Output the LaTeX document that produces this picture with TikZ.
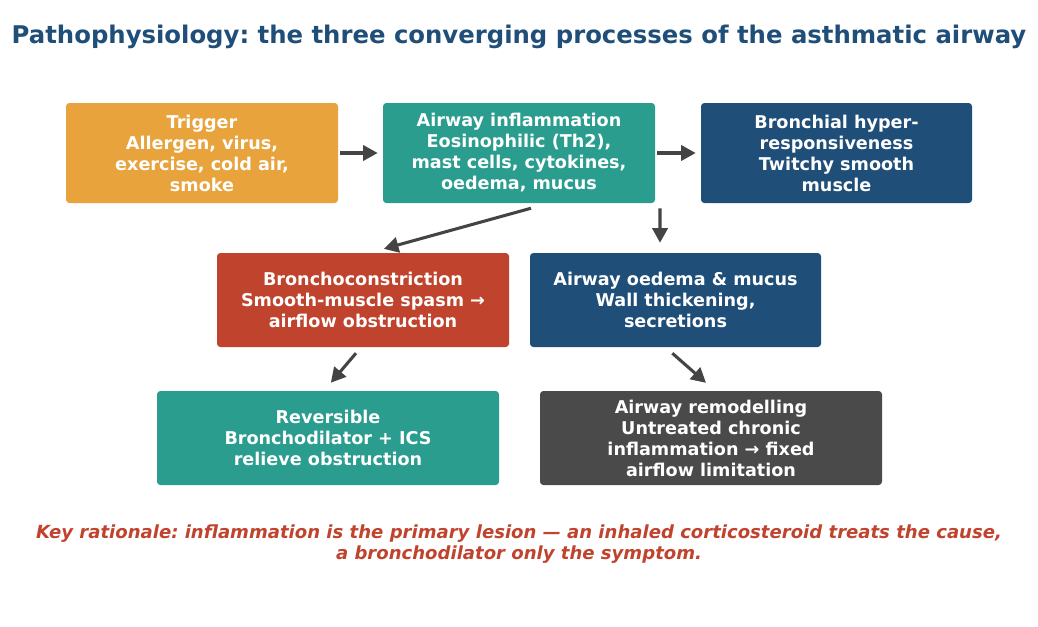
\documentclass[tikz,border=0pt]{standalone}
\usepackage{fontspec}
\setmainfont{DejaVu Sans}[ItalicFont={DejaVu Sans Oblique}, BoldItalicFont={DejaVu Sans Bold Oblique}]
\usetikzlibrary{arrows.meta}
\frenchspacing

\definecolor{trigorange}{HTML}{E8A33C}
\definecolor{inflteal}{HTML}{2A9D8F}
\definecolor{deepblue}{HTML}{1F4E79}
\definecolor{spasmred}{HTML}{C0432D}
\definecolor{remodgrey}{HTML}{4A4A4A}
\definecolor{arrowgrey}{HTML}{444444}

\begin{document}
\begin{tikzpicture}[x=0.75pt, y=-0.75pt,
	every node/.style={font=\bfseries\fontsize{13.2}{15.75}\selectfont, align=center},
	box/.style={text=white, rounded corners=2.5pt, inner sep=0pt},
	arr/.style={draw=arrowgrey, line width=2.3pt, -{Triangle[length=11pt,width=11.5pt]}}]
	\useasboundingbox (0,0) rectangle (1038,626);
	% title
	\node[text=deepblue, font=\bfseries\fontsize{18.25}{21}\selectfont] (title) at (519,36.5) {Pathophysiology: the three converging processes of the asthmatic airway};
	% boxes: name/centre/size/colour/text
	\foreach \nm/\cx/\cy/\w/\h/\col/\txt in {
		trig/202/153/272/100/trigorange/{Trigger\\Allergen, virus,\\exercise, cold air,\\smoke},
		infl/519/153/272/100/inflteal/{Airway inflammation\\Eosinophilic (Th2),\\mast cells, cytokines,\\oedema, mucus},
		hyper/836.5/153/271/100/deepblue/{Bronchial hyper-\\responsiveness\\Twitchy smooth\\muscle},
		bron/363/300/292/94/spasmred/{Bronchoconstriction\\Smooth-muscle spasm →\\airflow obstruction},
		oed/675.5/300/291/94/deepblue/{Airway oedema \& mucus\\Wall thickening,\\secretions},
		rev/328/438/342/94/inflteal/{Reversible\\Bronchodilator + ICS\\relieve obstruction},
		remod/711/438/342/94/remodgrey/{Airway remodelling\\Untreated chronic\\inflammation → fixed\\airflow limitation}} {
		\node[box, fill=\col, minimum width=\w*0.75pt, minimum height=\h*0.75pt] (\nm) at (\cx,\cy) {\txt};
	}
	% connectors
	\draw[arr, shorten <=1.5pt, shorten >=3.8pt] (trig.east) -- (infl.west);
	\draw[arr, shorten <=1.5pt, shorten >=3.8pt] (infl.east) -- (hyper.west);
	\draw[arr, shorten <=14pt, shorten >=11pt] ([xshift=22.5pt]infl.south) -- ([xshift=5pt]bron.north);
	\draw[arr, shorten <=3.8pt, shorten >=7.5pt] ([xshift=105.75pt]infl.south) -- ([xshift=-11.6pt]oed.north);
	\draw[arr, shorten <=5.8pt, shorten >=7.9pt] ([xshift=-1.5pt]bron.south) -- ([xshift=-3pt]rev.north);
	\draw[arr, shorten <=6.8pt, shorten >=9pt] ([xshift=-7.5pt]oed.south) -- ([xshift=3pt]remod.north);
	% rationale
	\node[text=spasmred, font=\bfseries\itshape\fontsize{13.55}{15.75}\selectfont] (note) at (519,544.5) {Key rationale: inflammation is the primary lesion — an inhaled corticosteroid treats the cause,\\a bronchodilator only the symptom.};
\end{tikzpicture}
\end{document}
